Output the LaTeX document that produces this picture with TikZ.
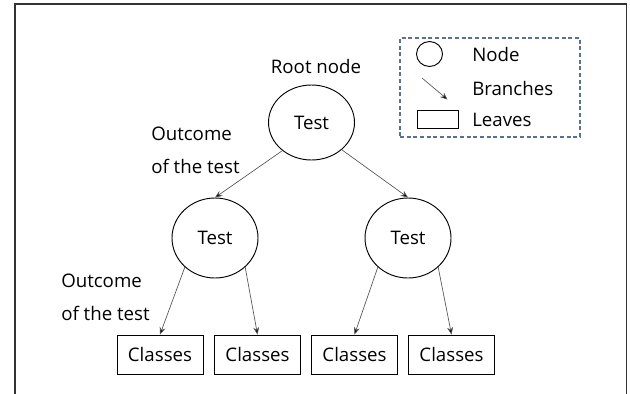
\documentclass[tikz,border=0pt]{standalone}
\usepackage{fontspec}
\setmainfont{Open Sans}
\usetikzlibrary{arrows.meta,shapes.geometric}
\definecolor{framegray}{HTML}{333333}
\definecolor{edgegray}{HTML}{555555}
\definecolor{legendblue}{HTML}{5B7096}
\tikzset{
  txt/.style={font=\fontsize{14}{24.75}\selectfont, inner sep=0pt},
  testnode/.style={draw, ellipse, line width=0.7pt, minimum width=64.5pt, minimum height=60pt, inner sep=0pt, txt},
  leafbox/.style={draw, rectangle, line width=0.7pt, minimum width=64.5pt, minimum height=29.25pt, inner sep=0pt, txt},
  branch/.style={draw=edgegray, line width=0.5pt, -{Stealth[length=5.5pt,width=4.5pt,fill=black]}},
  legendbox/.style={draw=legendblue, dashed, dash pattern=on 3pt off 2pt, line width=0.8pt, minimum width=135pt, minimum height=74.25pt, inner sep=0pt},
}
\begin{document}
\begin{tikzpicture}[x=0.75pt, y=-0.75pt]
  \useasboundingbox (0,0) rectangle (630,393);
  % outer frame, open at the bottom
  \draw[framegray, line width=1.2pt] (15,400) -- (15,4) -- (626.5,4) -- (626.5,400);

  % tree
  \node[testnode, minimum height=56.25pt] (root) at (311.5,122.5) {Test};
  \node[testnode] (lc) at (215,238) {Test};
  \node[testnode] (rc) at (408,238) {Test};
  \node[leafbox] (l1) at (160,354.5) {Classes};
  \node[leafbox] (l2) at (257.5,354.5) {Classes};
  \node[leafbox] (l3) at (354.5,354.5) {Classes};
  \node[leafbox] (l4) at (451.5,354.5) {Classes};

  \draw[branch] (root.224) -- (lc.north);
  \draw[branch] (root.318) -- (rc.north);
  \draw[branch] (lc.224) -- (l1.north);
  \draw[branch] (lc.316) -- (l2.north);
  \draw[branch] (rc.224) -- (l3.north);
  \draw[branch] (rc.316) -- (l4.north);

  % labels
  \node[txt] (rootlbl) at (316,66) {Root node};
  \node[txt, anchor=west, align=left] (out1) at (151,150) {Outcome\\of the test};
  \node[txt, anchor=west, align=left] (out2) at (61,297.5) {Outcome\\of the test};

  % legend
  \node[legendbox] (legend) at (490,87.5) {};
  \node[draw, ellipse, line width=0.7pt, minimum width=19.5pt, minimum height=18.75pt, inner sep=0pt] (lgnode) at (429.5,54) {};
  \coordinate (lgfrom) at (422,78);
  \coordinate (lgto) at (447.5,99.5);
  \draw[branch] (lgfrom) -- (lgto);
  \node[draw, rectangle, line width=0.7pt, minimum width=30.75pt, minimum height=13.5pt, inner sep=0pt] (lgleaf) at (437.5,119) {};
  \node[txt, anchor=west] (lgt1) at (472,54) {Node};
  \node[txt, anchor=west] (lgt2) at (472,88) {Branches};
  \node[txt, anchor=west] (lgt3) at (472,120) {Leaves};
\end{tikzpicture}
\end{document}
